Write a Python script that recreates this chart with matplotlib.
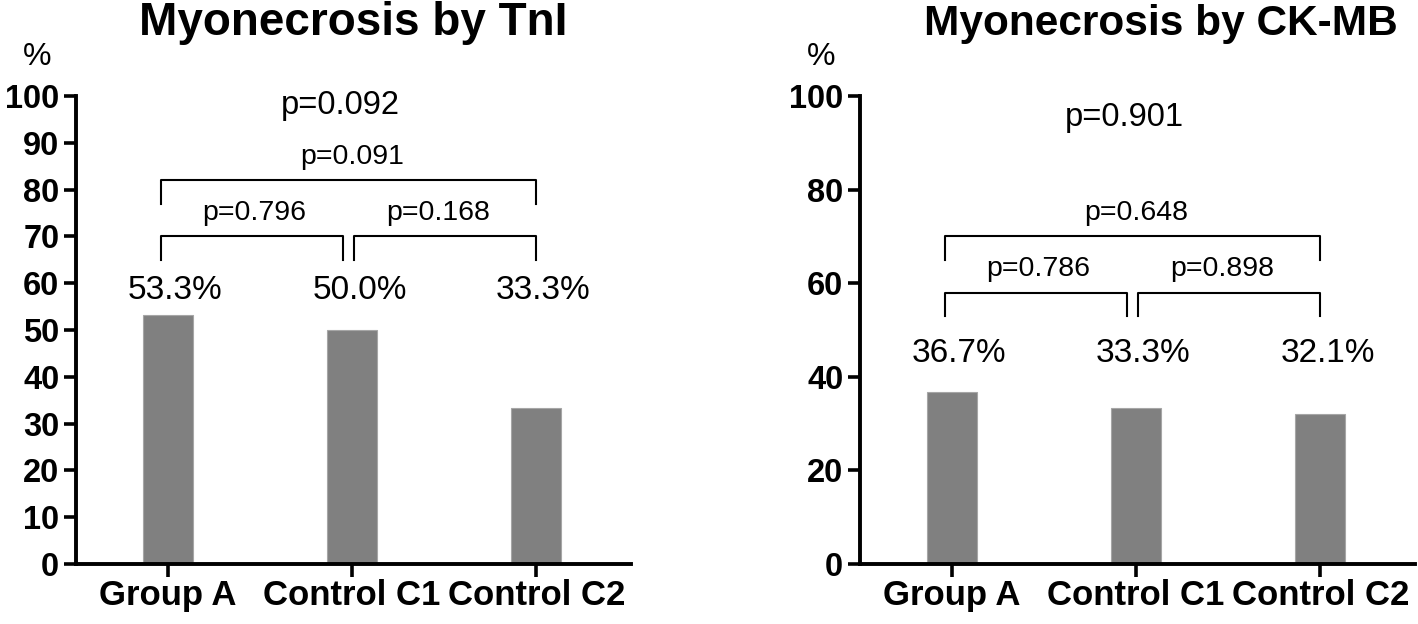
#!/usr/bin/env python3
"""Myonecrosis by TnI / CK-MB: bar chart with pairwise p-value brackets."""

import matplotlib
matplotlib.use("Agg")
import matplotlib.pyplot as plt

plt.rcParams["font.family"] = ["Liberation Sans", "DejaVu Sans"]

# ── data ──────────────────────────────────────────────────────────────────────
groups = ["Group A", "Control C1", "Control C2"]

tni_pct = [53.3, 50.0, 33.3]
tni_p_overall = "p=0.092"
tni_pairs = [(0, 1), (1, 2), (0, 2)]
tni_p_pairs = ["p=0.796", "p=0.168", "p=0.091"]

ckmb_pct = [36.7, 33.3, 32.1]
ckmb_p_overall = "p=0.901"
ckmb_pairs = [(0, 1), (1, 2), (0, 2)]
ckmb_p_pairs = ["p=0.786", "p=0.898", "p=0.648"]

BAR = "#808080"
W, H = 1418, 624


def bracket_x(i, j):
    x0 = i + (0.01 if i == 1 else -0.04)
    x1 = j - (0.05 if j == 1 else 0.0)
    return x0, x1


def panel(ax, title, pct, p_overall, pairs, p_pairs, yticks,
          lbl_y, pair_y, top_y, overall_y, title_x=0.5, title_size=33):
    x = list(range(len(groups)))
    ax.bar(x, pct, width=0.27, color=BAR, edgecolor="#a6a6a6", linewidth=0.8)
    ax.set_xlim(-0.5, 2.515)
    ax.set_ylim(0, 100)
    ax.set_yticks(yticks)
    ax.set_xticks(x)
    ax.set_xticklabels(groups, fontsize=25, fontweight="bold")
    plt.setp(ax.get_yticklabels(), fontsize=23.5, fontweight="bold")
    ax.tick_params(length=9, width=2.6, pad=3)
    ax.tick_params(axis="x", pad=2)
    ax.spines[["top", "right"]].set_visible(False)
    for s in ("left", "bottom"):
        ax.spines[s].set_linewidth(2.8)

    # value labels
    for xi, v in zip(x, pct):
        ax.text(xi + 0.04, lbl_y, f"{v:.1f}%", ha="center", va="center",
                fontsize=24)

    # brackets
    for (i, j), ptxt in zip(pairs, p_pairs):
        h = top_y if (j - i) == 2 else pair_y
        x0, x1 = bracket_x(i, j)
        ax.plot([x0, x0, x1, x1], [h - 5, h, h, h - 5], color="black",
                linewidth=1.5, clip_on=False)
        tx = (i + j) / 2 + (0.0 if (j - i) == 2 else -0.03)
        ax.text(tx, h + 5, ptxt, ha="center", va="center", fontsize=20.5)

    ax.text(0.935, overall_y, p_overall, ha="center", va="center", fontsize=23.5)

    ax.text(title_x, 1.13, title, transform=ax.transAxes, ha="center",
            va="baseline", fontsize=title_size, fontweight="bold")
    ax.text(-0.07, 1.083, "%", transform=ax.transAxes, ha="center",
            va="center", fontsize=23)


fig = plt.figure(figsize=(W / 100, H / 100), dpi=100)
ax1 = fig.add_axes([76 / W, 60 / H, 555 / W, 468 / H])
ax2 = fig.add_axes([860 / W, 60 / H, 555 / W, 468 / H])

panel(ax1, "Myonecrosis by TnI", tni_pct, tni_p_overall, tni_pairs,
      tni_p_pairs, range(0, 101, 10), 58.5, 70, 82, 97.9)
panel(ax2, "Myonecrosis by CK-MB", ckmb_pct, ckmb_p_overall, ckmb_pairs,
      ckmb_p_pairs, range(0, 101, 20), 45, 58, 70, 95.5,
      title_x=0.543, title_size=30.5)

fig.savefig("out.png", dpi=100)
plt.close()
